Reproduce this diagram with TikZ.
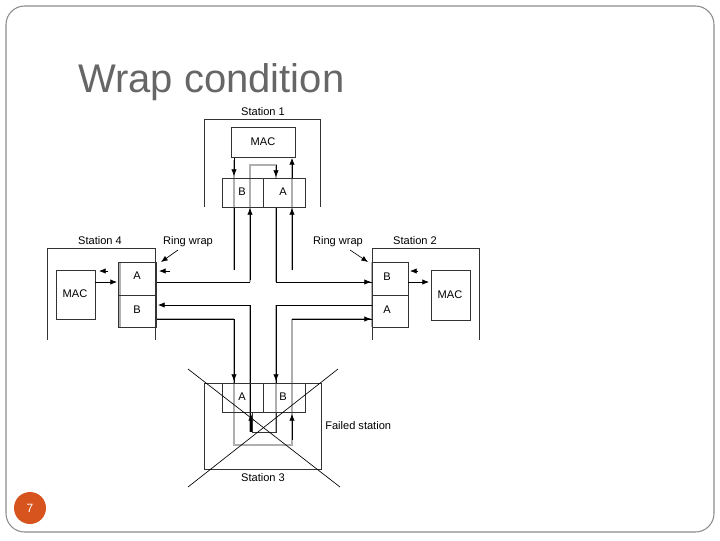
\documentclass[tikz,border=0pt]{standalone}
\usepackage{fontspec}
\setmainfont{Liberation Sans}
\usetikzlibrary{arrows.meta}
\definecolor{ring}{RGB}{175,175,175}
\definecolor{badge}{RGB}{216,84,30}
\begin{document}
\begin{tikzpicture}[x=0.75pt,y=-0.75pt,
  lbl/.style={font=\fontsize{8.3}{9}\selectfont,inner sep=0pt},
  box/.style={draw=black!80,line width=0.5pt},
  gr/.style={draw=ring,line width=1.6pt},
  bk/.style={draw=black,line width=0.5pt},
  tip/.style={-{Latex[length=5pt,width=4pt]}},
  every node/.style={inner sep=0pt}]
\useasboundingbox (0,0) rectangle (720,540);
\draw[draw=black!45,line width=0.8pt,rounded corners=14pt] (6,6) rectangle (714,532);
\node[anchor=west,text=black!60,font=\fontsize{30}{33}\selectfont] (title) at (78,82) {Wrap condition};
\node[circle,fill=badge,minimum size=24pt,text=white,font=\fontsize{9}{10}\selectfont] (pg) at (30,508) {7};

% ring (gray)
\draw[gr] (234,160)--(234,270);
\draw[gr] (292,165)--(292,270);
\draw[gr] (250,270)--(250,165)--(276,165)--(276,178);
\draw[gr] (276,207)--(276,282);
\draw[gr] (250,282)--(250,207);
\draw[gr] (120,262)--(120,327);
\draw[gr] (372,262)--(372,327);
\draw[gr] (234,319)--(234,445)--(292,445)--(292,319);
\draw[gr] (250,305)--(250,432);
\draw[gr] (276,305)--(276,432);
\draw[gr] (155,319)--(234,319);
\draw[gr] (292,319)--(372,319);
% ring (black)
\draw[bk,tip] (234,157)--(234,176);
\draw[bk,tip] (292,178)--(292,158);
\draw[bk,tip] (276,165)--(276,177);
\draw[bk,tip] (250,280)--(250,208);
\draw[bk,tip] (292,270)--(292,208);
\draw[bk] (234,207)--(234,270);
\draw[bk] (276,207)--(276,282)--(372,282);
\draw[bk,tip] (350,282)--(371,282);
\draw[bk] (250,282)--(157,282);
\draw[bk,tip] (250,305)--(158,305);
\draw[bk] (250,305)--(250,432);
\draw[bk] (276,305)--(372,305);
\draw[bk] (157,319)--(234,319)--(234,383);
\draw[bk,tip] (234,360)--(234,381);
\draw[bk] (292,319)--(372,319);
\draw[bk,tip] (350,319)--(371,319);
\draw[bk] (276,305)--(276,383);
\draw[bk,tip] (276,360)--(276,381);
\draw[bk,tip] (251,432)--(251,414);
\draw[bk,tip] (292,440)--(292,414);

% Station 1
\draw[box] (204,207)--(204,119)--(320,119)--(320,207);
\draw[box] (231,127) rectangle (295,157);
\draw[box] (222,178) rectangle (305,207); \draw[box] (263,178)--(263,207);
\node[lbl] (s1) at (263,112) {Station 1};
\node[lbl] (m1) at (263,142) {MAC};
\node[lbl] (b1) at (242,192) {B};
\node[lbl] (a1) at (283,192) {A};

% Station 4
\draw[box] (47,340)--(47,248)--(155,248)--(155,340);
\draw[box] (56,270) rectangle (95,319);
\draw[box] (118,262) rectangle (156,327); \draw[box] (118,295)--(156,295);
\node[lbl] (s4) at (100,241) {Station 4};
\node[lbl] (m4) at (75,294) {MAC};
\node[lbl] (a4) at (137,276) {A};
\node[lbl] (b4) at (137,310) {B};
\draw[bk,tip] (95,282)--(117,282);
\draw[bk,tip] (108,271)--(99,271);
\draw[bk,tip] (170,271)--(159,271);
\node[lbl] (rw4) at (188,242) {Ring wrap};
\draw[bk,tip] (178,250)--(161,262);

% Station 2
\draw[box] (372,340)--(372,248)--(479,248)--(479,340);
\draw[box] (431,270) rectangle (470,320);
\draw[box] (372,262) rectangle (408,327); \draw[box] (372,295)--(408,295);
\node[lbl] (s2) at (415,241) {Station 2};
\node[lbl] (m2) at (450,295) {MAC};
\node[lbl] (b2) at (387,277) {B};
\node[lbl] (a2) at (387,310) {A};
\draw[bk,tip] (408,282)--(429,282);
\draw[bk,tip] (418,271)--(410,271);
\node[lbl] (rw2) at (338,242) {Ring wrap};
\draw[bk,tip] (350,250)--(368,262);

% Station 3
\draw[box] (204,383) rectangle (321,469);
\draw[box] (222,383) rectangle (305,412); \draw[box] (263,383)--(263,412);
\draw[box] (252,412) rectangle (276,432);
\node[lbl] (a3) at (242,397) {A};
\node[lbl] (b3) at (283,397) {B};
\node[lbl] (s3) at (263,478) {Station 3};
\node[lbl,anchor=west] (fs) at (325,426) {Failed station};
\draw[bk] (188,369)--(340,487);
\draw[bk] (338,369)--(188,487);
\end{tikzpicture}
\end{document}
